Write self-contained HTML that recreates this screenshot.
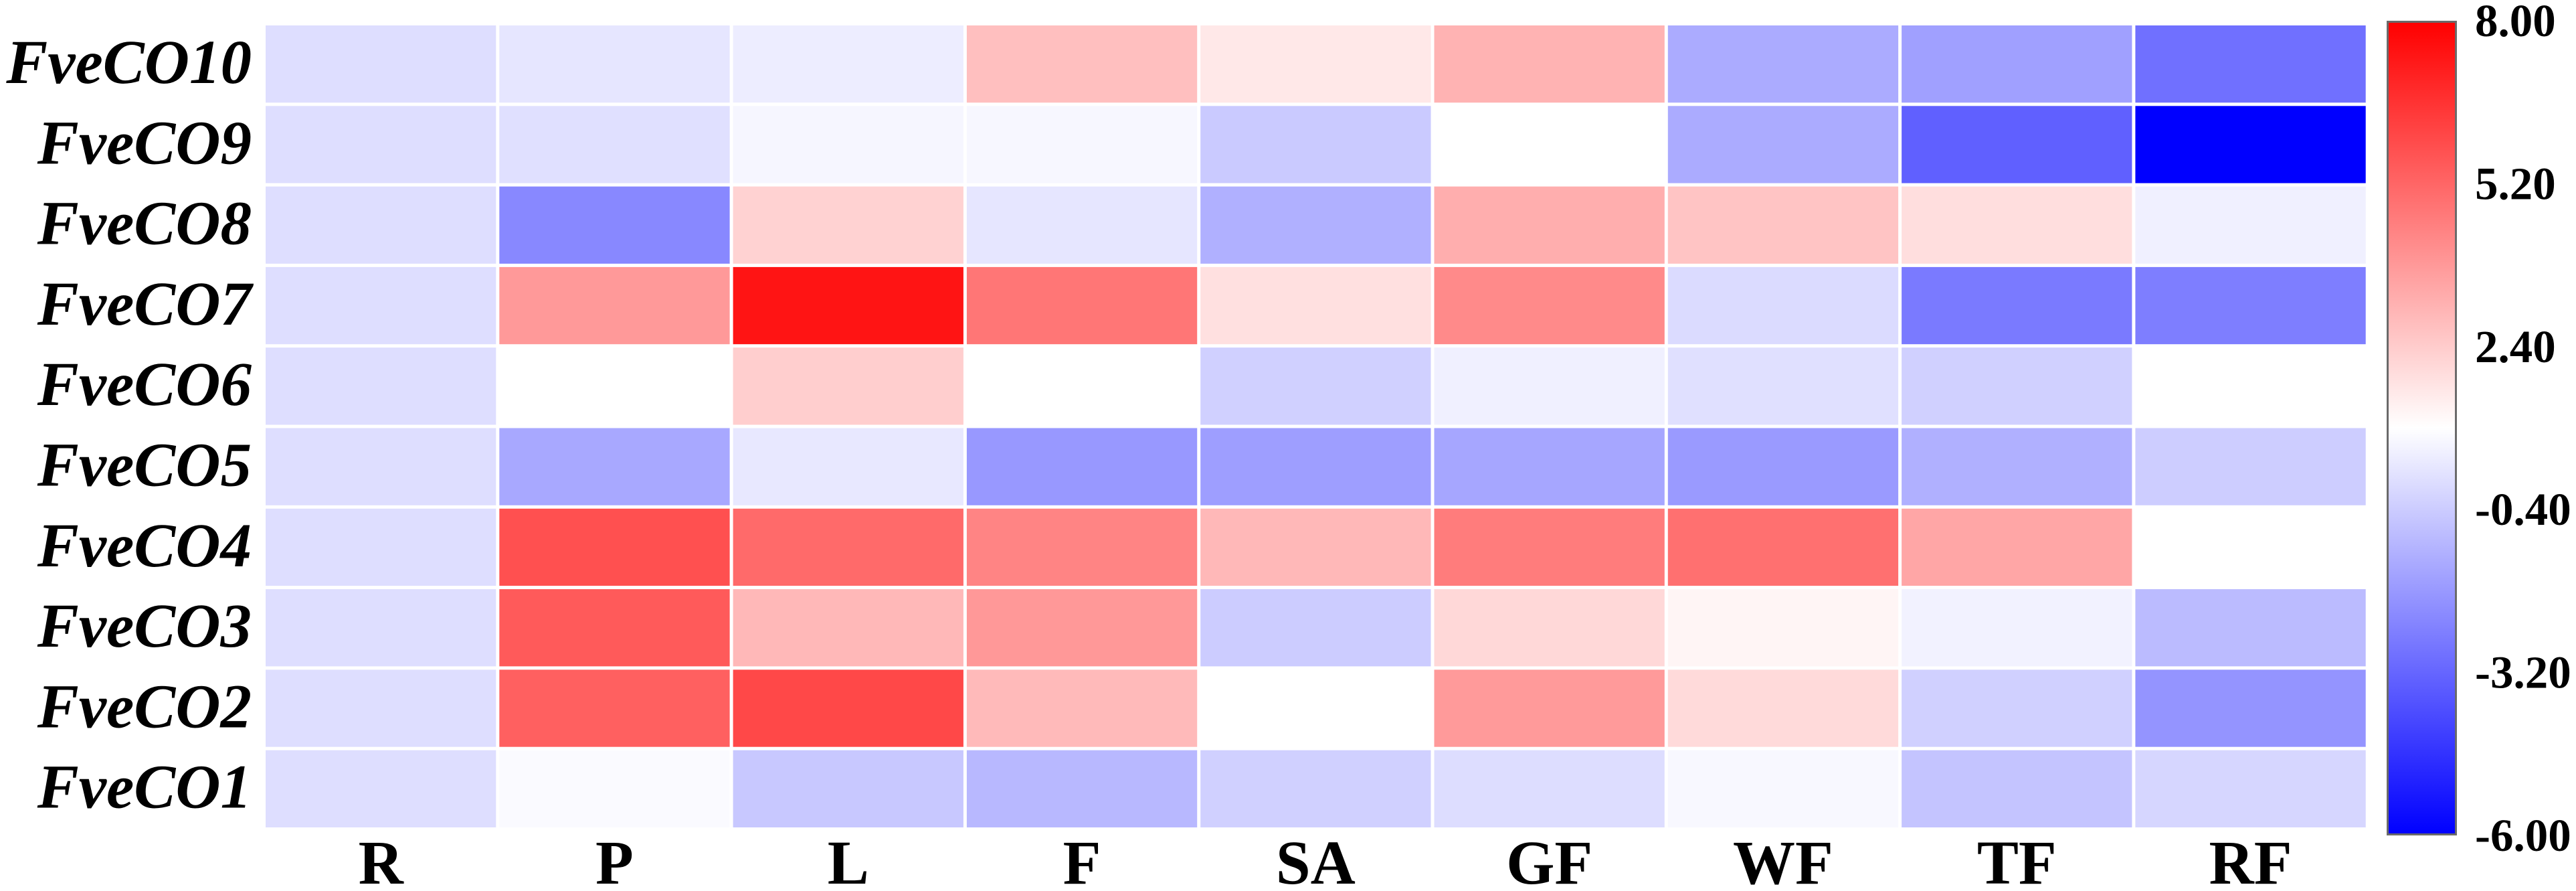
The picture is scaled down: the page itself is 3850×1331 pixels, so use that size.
<!DOCTYPE html>
<html>
<head>
<meta charset="utf-8">
<title>FveCO expression heatmap</title>
<style>
  html, body { margin: 0; padding: 0; background: #fff; width: 3850px; height: 1331px; overflow: hidden; }
  svg { display: block; }
  text { font-family: "Liberation Serif", serif; font-weight: bold; fill: #000; }
</style>
</head>
<body>
<svg id="chart" xmlns="http://www.w3.org/2000/svg" width="3850" height="1331" viewBox="0 0 3850 1331">
  <defs>
    <linearGradient id="legend-gradient" x1="0" y1="0" x2="0" y2="1"></linearGradient>
  </defs>
  <rect x="0" y="0" width="3850" height="1331" fill="#fff"></rect>
  <g id="cells"></g>
  <g id="row-labels"></g>
  <g id="col-labels"></g>
  <g id="legend"></g>
</svg>
<script>
const columns = ["R", "P", "L", "F", "SA", "GF", "WF", "TF", "RF"];
const rowNames = ["FveCO10", "FveCO9", "FveCO8", "FveCO7", "FveCO6", "FveCO5", "FveCO4", "FveCO3", "FveCO2", "FveCO1"];
const fveCO10 = [0.1, 0.31, 0.5, 2.76, 1.63, 3.09, -1.3, -1.6, -2.93];
const fveCO9 = [0.1, 0.15, 0.75, 0.78, -0.45, 1.0, -1.3, -3.36, -6.0];
const fveCO8 = [0.1, -2.27, 2.23, 0.31, -1.17, 3.22, 2.62, 1.9, 0.6];
const fveCO7 = [0.1, 3.8, 7.45, 4.76, 1.85, 4.2, 0.0, -2.65, -2.54];
const fveCO6 = [0.1, 1.0, 2.34, 1.0, -0.29, 0.6, 0.15, -0.3, 1.0];
const fveCO5 = [0.1, -1.39, 0.37, -1.83, -1.66, -1.44, -1.77, -1.17, -0.37];
const fveCO4 = [0.1, 5.8, 5.09, 4.38, 2.95, 4.6, 4.93, 3.44, 1.0];
const fveCO3 = [0.1, 5.53, 2.95, 3.83, -0.4, 2.07, 1.27, 0.65, -0.87];
const fveCO2 = [0.1, 5.36, 6.02, 2.9, 1.0, 3.77, 2.02, -0.3, -1.94];
const fveCO1 = [0.1, 0.85, -0.5, -0.95, -0.29, 0.07, 0.8, -0.62, -0.12];
const tickLabels = ["8.00", "5.20", "2.40", "-0.40", "-3.20", "-6.00"];
const domainMin = -6;
const domainMax = 8;
const rowValues = [fveCO10, fveCO9, fveCO8, fveCO7, fveCO6, fveCO5, fveCO4, fveCO3, fveCO2, fveCO1];

const SVG_NS = "http://www.w3.org/2000/svg";
const plot = { left: 397, top: 38, colStep: 349.3, rowStep: 120.3, gap: 5 };
const bar = { x: 3567, y: 31, w: 105, h: 1217 };

function xScale(i) { return plot.left + i * plot.colStep; }
function yScale(i) { return plot.top + i * plot.rowStep; }
function legendY(v) { return bar.y + (domainMax - v) / (domainMax - domainMin) * bar.h; }
function colorScale(v) {
  const mid = (domainMin + domainMax) / 2;
  const c = Math.max(domainMin, Math.min(domainMax, v));
  if (c <= mid) {
    const g = Math.round(255 * (c - domainMin) / (mid - domainMin));
    return "rgb(" + g + "," + g + ",255)";
  }
  const g = Math.round(255 * (domainMax - c) / (domainMax - mid));
  return "rgb(255," + g + "," + g + ")";
}
function make(tag, attrs, parent) {
  const el = document.createElementNS(SVG_NS, tag);
  Object.keys(attrs).forEach(function (k) { el.setAttribute(k, attrs[k]); });
  parent.appendChild(el);
  return el;
}

const cellsGroup = document.getElementById("cells");
const rowGroup = document.getElementById("row-labels");
const colGroup = document.getElementById("col-labels");
const legendGroup = document.getElementById("legend");

rowValues.forEach(function (vals, r) {
  vals.forEach(function (v, c) {
    const cell = make("rect", {
      x: xScale(c),
      y: yScale(r),
      width: plot.colStep - plot.gap,
      height: plot.rowStep - plot.gap,
      fill: colorScale(v)
    }, cellsGroup);
    
    
  });
  const label = make("text", {
    x: plot.left - 21,
    y: yScale(r) + 86,
    "text-anchor": "end",
    "font-size": 93,
    "font-style": "italic"
  }, rowGroup);
  label.textContent = rowNames[r];
  
  
});

columns.forEach(function (name, c) {
  const label = make("text", {
    x: xScale(c) + (plot.colStep - plot.gap) / 2,
    y: 1320,
    "text-anchor": "middle",
    "font-size": 93
  }, colGroup);
  label.textContent = name;
  
  
});

const gradient = document.getElementById("legend-gradient");
[domainMax, (domainMin + domainMax) / 2, domainMin].forEach(function (v) {
  const stop = make("stop", {
    offset: (domainMax - v) / (domainMax - domainMin),
    "stop-color": colorScale(v)
  }, gradient);
  
  
});

const legendBar = make("rect", {
  x: bar.x + 1.5,
  y: bar.y + 1.5,
  width: bar.w - 3,
  height: bar.h - 3,
  fill: "url(#legend-gradient)",
  stroke: "#6a6a6a",
  "stroke-width": 3
}, legendGroup);



tickLabels.forEach(function (t) {
  const tick = make("text", {
    x: 3699,
    y: legendY(parseFloat(t)) + 23,
    "font-size": 69
  }, legendGroup);
  tick.textContent = t;
  
  
});
</script>
</body>
</html>
